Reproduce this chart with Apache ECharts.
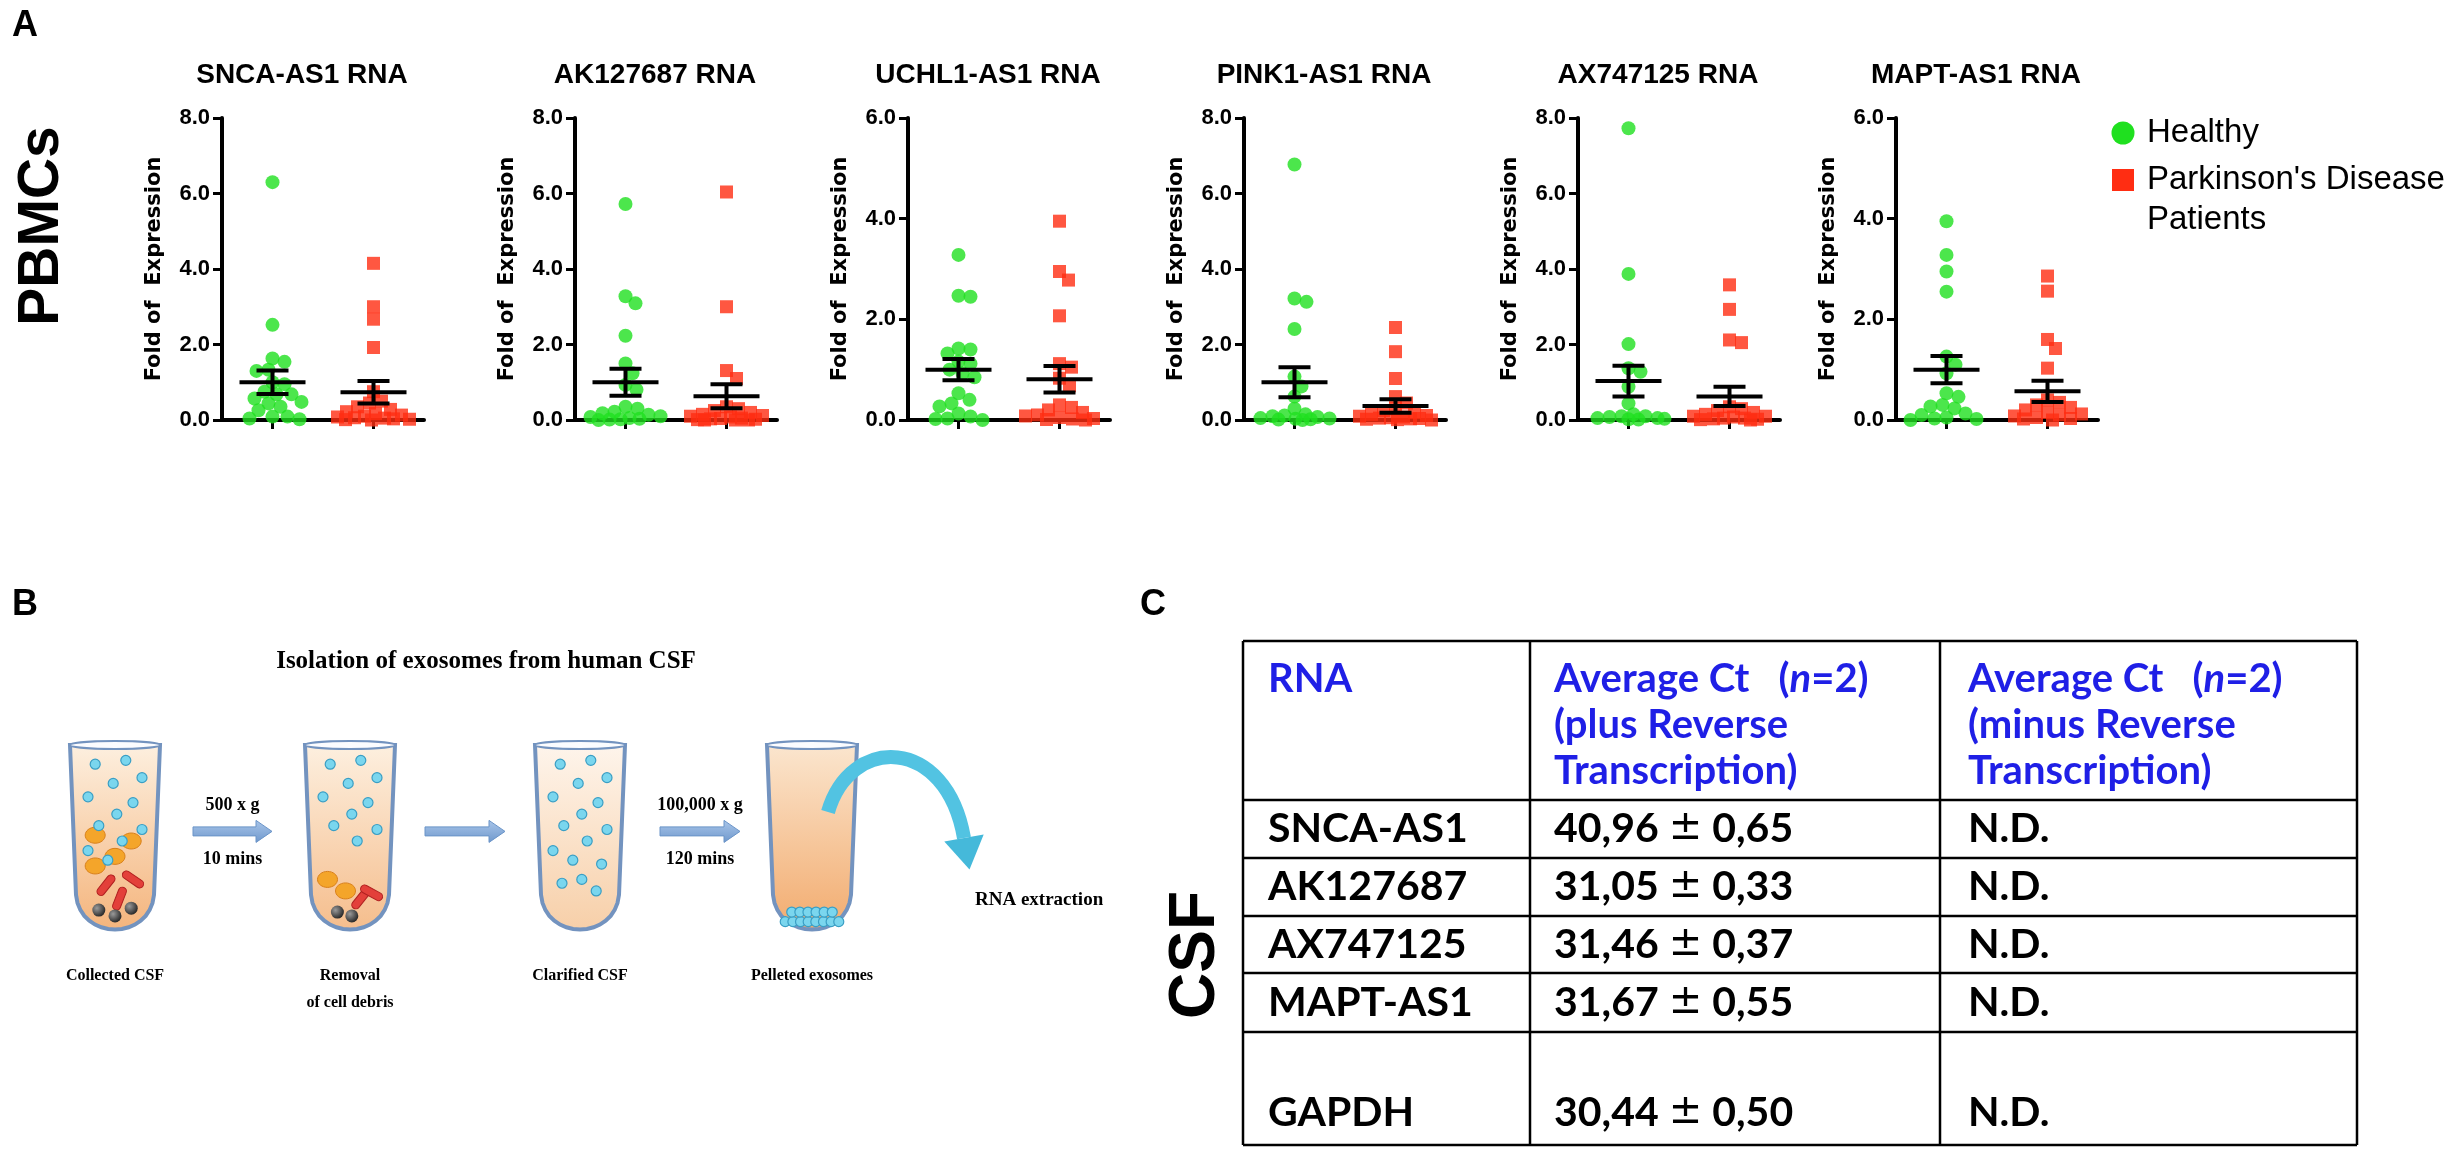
<!DOCTYPE html>
<html>
<head>
<meta charset="utf-8">
<script src="https://cdn.jsdelivr.net/npm/echarts@6/dist/echarts.min.js"></script>
<style>
html, body { margin: 0; padding: 0; background: #fff; }
#fig { width: 2458px; height: 1158px; }
</style>
</head>
<body>
<div id="fig"></div>
<script>
// ---- panel A data (fold of expression) ----
var genes = ['SNCA-AS1 RNA', 'AK127687 RNA', 'UCHL1-AS1 RNA', 'PINK1-AS1 RNA', 'AX747125 RNA', 'MAPT-AS1 RNA'];
var yMax = [8, 8, 6, 8, 8, 6];

var sncaHealthy  = [6.3, 2.52, 1.63, 1.54, 1.33, 1.3, 1.0, 0.95, 0.75, 0.68, 0.68, 0.57, 0.48, 0.44, 0.35, 0.26, 0.09, 0.09, 0.04, 0.02];
var sncaPatients = [4.15, 3.0, 2.67, 1.92, 0.75, 0.5, 0.45, 0.35, 0.28, 0.22, 0.17, 0.13, 0.1, 0.08, 0.06, 0.05, 0.03, 0.02, 0.01, 0.0];
var akHealthy    = [5.72, 3.28, 3.09, 2.23, 1.5, 1.24, 0.93, 0.8, 0.35, 0.3, 0.22, 0.18, 0.14, 0.1, 0.08, 0.05, 0.03, 0.02, 0.01, 0.0];
var akPatients   = [6.04, 3.0, 1.31, 1.1, 0.35, 0.3, 0.25, 0.2, 0.15, 0.12, 0.1, 0.08, 0.05, 0.04, 0.03, 0.02, 0.01, 0.0, 0.0, 0.0];
var uchHealthy   = [3.28, 2.47, 2.45, 1.42, 1.4, 1.32, 1.16, 1.12, 1.0, 0.93, 0.85, 0.53, 0.4, 0.33, 0.27, 0.13, 0.07, 0.03, 0.02, 0.0];
var uchPatients  = [3.95, 2.95, 2.78, 2.07, 1.12, 1.05, 0.83, 0.68, 0.3, 0.25, 0.2, 0.15, 0.1, 0.08, 0.05, 0.03, 0.02, 0.01, 0.0];
var pinkHealthy  = [6.77, 3.22, 3.13, 2.41, 1.15, 0.89, 0.62, 0.3, 0.15, 0.12, 0.1, 0.08, 0.05, 0.04, 0.03, 0.02, 0.01, 0.0];
var pinkPatients = [2.45, 1.81, 1.1, 0.62, 0.45, 0.3, 0.25, 0.2, 0.15, 0.12, 0.1, 0.08, 0.06, 0.05, 0.04, 0.03, 0.02, 0.01, 0.0];
var axHealthy    = [7.73, 3.87, 2.01, 1.37, 1.28, 0.88, 0.44, 0.15, 0.1, 0.1, 0.08, 0.05, 0.05, 0.03, 0.02, 0.01];
var axPatients   = [3.58, 2.93, 2.12, 2.05, 0.35, 0.3, 0.25, 0.2, 0.15, 0.1, 0.1, 0.08, 0.05, 0.05, 0.03, 0.02, 0.01, 0.0];
var maptHealthy  = [3.95, 3.28, 2.95, 2.55, 1.26, 1.1, 0.93, 0.53, 0.46, 0.3, 0.27, 0.23, 0.13, 0.1, 0.05, 0.03, 0.02, 0.0];
var maptPatients = [2.86, 2.56, 1.6, 1.42, 1.03, 0.4, 0.35, 0.3, 0.25, 0.2, 0.15, 0.12, 0.1, 0.08, 0.05, 0.03, 0.02, 0.0];

// mean and SEM as drawn (error bars)
var healthyMean = [1.0, 1.0, 1.0, 1.0, 1.03, 1.0];
var healthySem  = [0.31, 0.36, 0.21, 0.4, 0.41, 0.27];
var patientMean = [0.735, 0.63, 0.81, 0.37, 0.625, 0.57];
var patientSem  = [0.295, 0.32, 0.265, 0.18, 0.255, 0.21];

var legendNames = ['Healthy', "Parkinson's Disease\nPatients"];

// ---- panel B text ----
var stepNames = ['Collected CSF', 'Removal\nof cell debris', 'Clarified CSF', 'Pelleted exosomes'];
var spinTop = ['500 x g', '', '100,000 x g'];
var spinBottom = ['10 mins', '', '120 mins'];

// ---- panel C table ----
var rnaNames = ['SNCA-AS1', 'AK127687', 'AX747125', 'MAPT-AS1', 'GAPDH'];
var ctMean = ['40,96', '31,05', '31,46', '31,67', '30,44'];
var ctSd = ['0,65', '0,33', '0,37', '0,55', '0,50'];
var ctMinusRT = ['N.D.', 'N.D.', 'N.D.', 'N.D.', 'N.D.'];

var healthyAll = [sncaHealthy, akHealthy, uchHealthy, pinkHealthy, axHealthy, maptHealthy];
var patientAll = [sncaPatients, akPatients, uchPatients, pinkPatients, axPatients, maptPatients];

var GREEN = '#1fe01f', RED = '#ff2d12';
var SANS = 'Liberation Sans', SERIF = 'Liberation Serif', CAL = 'Lato';

// layout
var axisX = [222, 575, 908, 1244, 1578, 1896];
var plotTop = 118, plotH = 302, plotW = 202;

// simple deterministic beeswarm: horizontal pixel offsets so dots do not pile up
function swarm(values, pxPerUnit, dist, maxOff) {
    var order = values.map(function (v, i) { return i; });
    order.sort(function (a, b) { return values[b] - values[a]; });
    var placed = [], off = [];
    order.forEach(function (i) {
        var y = values[i] * pxPerUnit;
        var best = 0, bestGap = -1;
        for (var k = 0; k <= 2 * maxOff; k++) {
            var dx = k === 0 ? 0 : (k % 2 ? (k + 1) / 2 : -k / 2);
            var gap = Infinity;
            placed.forEach(function (p) {
                var d = Math.sqrt((p[0] - dx) * (p[0] - dx) + (p[1] - y) * (p[1] - y));
                if (d < gap) gap = d;
            });
            if (gap >= dist) { best = dx; bestGap = gap; break; }
            if (gap > bestGap) { bestGap = gap; best = dx; }
        }
        off[i] = best;
        placed.push([best, y]);
    });
    return off;
}

function errorBar(params, api) {
    var x = api.value(0), m = api.value(1), s = api.value(2);
    var c = api.coord([x, m]), hi = api.coord([x, m + s]), lo = api.coord([x, m - s]);
    function seg(x1, y1, x2, y2) {
        return { type: 'line', shape: { x1: x1, y1: y1, x2: x2, y2: y2 }, style: { stroke: '#000', lineWidth: 4 } };
    }
    return { type: 'group', children: [
        seg(c[0] - 33, c[1], c[0] + 33, c[1]),
        seg(c[0], hi[1], c[0], lo[1]),
        seg(c[0] - 16, hi[1], c[0] + 16, hi[1]),
        seg(c[0] - 16, lo[1], c[0] + 16, lo[1])
    ] };
}

var grids = [], xAxes = [], yAxes = [], series = [];
genes.forEach(function (g, i) {
    grids.push({ left: axisX[i], top: plotTop, width: plotW, height: plotH, outerBoundsMode: 'none' });
    xAxes.push({
        gridIndex: i, type: 'value', min: -0.5, max: 1.5,
        axisLine: { show: true, onZero: false, lineStyle: { color: '#000', width: 4 } },
        axisTick: { show: true, customValues: [0, 1], length: 9, lineStyle: { color: '#000', width: 3 } },
        axisLabel: { show: false }, splitLine: { show: false }
    });
    yAxes.push({
        gridIndex: i, type: 'value', min: 0, max: yMax[i], interval: 2,
        name: 'Fold of  Expression', nameLocation: 'middle', nameGap: 57,
        nameTextStyle: { fontFamily: 'DejaVu Sans', fontWeight: 'bold', fontSize: 21, color: '#000' },
        axisLine: { show: true, onZero: false, lineStyle: { color: '#000', width: 4 } },
        axisTick: { show: true, length: 9, lineStyle: { color: '#000', width: 3 } },
        axisLabel: { color: '#000', fontFamily: SANS, fontWeight: 'bold', fontSize: 22, margin: 12,
            formatter: function (v) { return v.toFixed(1); } },
        splitLine: { show: false }
    });
    var pxU = plotH / yMax[i], pxX = plotW / 2;
    var offH = swarm(healthyAll[i], pxU, 12, 36);
    var offP = swarm(patientAll[i], pxU, 12, 36);
    series.push({
        type: 'scatter', name: legendNames[0], xAxisIndex: i, yAxisIndex: i, clip: false, silent: true,
        symbol: 'circle', symbolSize: 14, itemStyle: { color: GREEN },
        data: healthyAll[i].map(function (v, k) { return [offH[k] / pxX, v]; })
    });
    series.push({
        type: 'scatter', name: legendNames[1], xAxisIndex: i, yAxisIndex: i, clip: false, silent: true,
        symbol: 'rect', symbolSize: 13, itemStyle: { color: RED },
        data: patientAll[i].map(function (v, k) { return [1 + offP[k] / pxX, v]; })
    });
    series.push({
        type: 'custom', xAxisIndex: i, yAxisIndex: i, clip: false, silent: true, z: 5,
        encode: { x: 0, y: 1 }, renderItem: errorBar,
        data: [[0, healthyMean[i], healthySem[i]], [1, patientMean[i], patientSem[i]]]
    });
});

// ---- graphic elements ----
var els = [];
function text(x, y, str, size, opt) {
    opt = opt || {};
    var st = { text: str, x: 0, y: 0, fontFamily: opt.family || SANS, fontSize: size,
        fontWeight: opt.weight || 'bold', fill: opt.color || '#000',
        textAlign: opt.align || 'left', verticalAlign: opt.valign || 'middle', textVerticalAlign: opt.valign || 'middle' };
    if (opt.lineHeight) st.lineHeight = opt.lineHeight;
    if (opt.rich) st.rich = opt.rich;
    els.push({ type: 'text', x: x, y: y, rotation: opt.rotation || 0, style: st, silent: true, z: 10 });
}

// panel labels
text(12, 26, 'A', 36);
text(12, 605, 'B', 36);
text(1140, 605, 'C', 36);
text(42, 226, 'PBMCs', 57, { align: 'center', rotation: Math.PI / 2 });
text(1196, 955, 'CSF', 64, { align: 'center', rotation: Math.PI / 2 });

// plot titles
genes.forEach(function (g, i) { text(axisX[i] + 80, 75, g, 28, { align: 'center' }); });

// legend
els.push({ type: 'circle', shape: { cx: 2123, cy: 133, r: 11.5 }, style: { fill: GREEN }, silent: true });
els.push({ type: 'rect', shape: { x: 2112, y: 169, width: 22, height: 22 }, style: { fill: RED }, silent: true });
text(2147, 133, legendNames[0], 33, { weight: 'normal' });
text(2147, 160, legendNames[1], 33, { weight: 'normal', valign: 'top', lineHeight: 40 });

// ---- panel B: exosome isolation scheme ----
text(486, 662, 'Isolation of exosomes from human CSF', 25, { family: SERIF, align: 'center' });

var tubeX = [115, 350, 580, 812], tubeTop = 745, tubeH = 192, tubeW = 90;
var exo = [[-0.22, 0.1], [0.12, 0.08], [0.3, 0.17], [-0.02, 0.2], [-0.3, 0.27], [0.2, 0.3], [0.02, 0.36],
    [-0.18, 0.42], [0.3, 0.44], [0.08, 0.5], [-0.3, 0.55], [-0.08, 0.6], [0.24, 0.62], [0.02, 0.7],
    [-0.2, 0.72], [0.18, 0.76]];
var tubeStuff = [
    { exo: 12, cells: [[-0.22, 0.47], [0.18, 0.5], [0.0, 0.58], [-0.22, 0.63]],
      rods: [[-0.1, 0.73, 0.9], [0.2, 0.7, -0.6], [0.05, 0.8, 1.2]], debris: [[-0.18, 0.86], [0.0, 0.89], [0.18, 0.85]] },
    { exo: 10, cells: [[-0.25, 0.7], [-0.05, 0.76]],
      rods: [[0.12, 0.8, 0.9], [0.24, 0.77, -0.5]], debris: [[0.02, 0.89], [-0.14, 0.87]] },
    { exo: 16, cells: [], rods: [], debris: [] },
    { exo: 0, cells: [], rods: [], debris: [] }
];
var tubeFill = [['#fdf0e0', '#f4b47c'], ['#fdf0e0', '#f5bd8c'], ['#fef5ec', '#f7cfa8'], ['#fbe6cf', '#f2ab6e']];

function tubeOutline(L, R, T, H) {
    var B = T + H, yk = T + H * 0.78;
    var p0 = [L + 6, yk], p1 = [L + 10, B + 4], p2 = [R - 10, B + 4], p3 = [R - 6, yk];
    var pts = [[L, T], p0];
    for (var s = 1; s <= 16; s++) {
        var t = s / 16, u = 1 - t;
        pts.push([u * u * u * p0[0] + 3 * u * u * t * p1[0] + 3 * u * t * t * p2[0] + t * t * t * p3[0],
                  u * u * u * p0[1] + 3 * u * u * t * p1[1] + 3 * u * t * t * p2[1] + t * t * t * p3[1]]);
    }
    pts.push([R, T]);
    return pts;
}

tubeX.forEach(function (cx, t) {
    var L = cx - tubeW / 2, R = cx + tubeW / 2, T = tubeTop;
    els.push({ type: 'polygon', shape: { points: tubeOutline(L, R, T, tubeH) }, silent: true, z: 1,
        style: { fill: new echarts.graphic.LinearGradient(0, 0, 0, 1, [
            { offset: 0, color: tubeFill[t][0] }, { offset: 1, color: tubeFill[t][1] }]),
            stroke: '#7393bf', lineWidth: 4 } });
    els.push({ type: 'ellipse', shape: { cx: cx, cy: T, rx: tubeW / 2, ry: 4 }, silent: true, z: 2,
        style: { fill: '#fbfcff', stroke: '#7393bf', lineWidth: 2 } });
    var s = tubeStuff[t];
    s.cells.forEach(function (p) {
        els.push({ type: 'ellipse', shape: { cx: cx + p[0] * tubeW, cy: T + p[1] * tubeH, rx: 10, ry: 8 }, silent: true, z: 3,
            style: { fill: '#f4a52a', stroke: '#d9801a', lineWidth: 1 } });
    });
    s.rods.forEach(function (p) {
        els.push({ type: 'rect', x: cx + p[0] * tubeW, y: T + p[1] * tubeH, rotation: p[2], silent: true, z: 3,
            shape: { x: -12, y: -4, width: 24, height: 8, r: 4 }, style: { fill: '#e3403a', stroke: '#b02020', lineWidth: 1 } });
    });
    s.debris.forEach(function (p) {
        els.push({ type: 'circle', shape: { cx: cx + p[0] * tubeW, cy: T + p[1] * tubeH, r: 6.5 }, silent: true, z: 3,
            style: { fill: new echarts.graphic.RadialGradient(0.35, 0.35, 0.7, [
                { offset: 0, color: '#9a9a9a' }, { offset: 1, color: '#252525' }]) } });
    });
    for (var k = 0; k < s.exo; k++) {
        els.push({ type: 'circle', shape: { cx: cx + exo[k][0] * tubeW, cy: T + exo[k][1] * tubeH, r: 5 }, silent: true, z: 4,
            style: { fill: '#7ad6ee', stroke: '#3a9ec4', lineWidth: 1.2 } });
    }
    if (t === 3) {
        for (var r = 0; r < 2; r++) {
            var n = r === 0 ? 8 : 6;
            for (var j = 0; j < n; j++) {
                var fx = (j - (n - 1) / 2) * (r === 0 ? 0.085 : 0.09);
                els.push({ type: 'circle', shape: { cx: cx + fx * tubeW, cy: T + (0.92 - r * 0.05) * tubeH, r: 5 }, silent: true, z: 4,
                    style: { fill: '#7ad6ee', stroke: '#3a9ec4', lineWidth: 1.2 } });
            }
        }
    }
    text(cx, 962, stepNames[t], 16, { family: SERIF, align: 'center', valign: 'top', lineHeight: 27 });
});

// straight arrows between tubes
var arrowY = tubeTop + tubeH * 0.45;
[[193, 272], [425, 505], [660, 740]].forEach(function (a, i) {
    var x1 = a[0], x2 = a[1], y = arrowY, hl = 16;
    els.push({ type: 'polygon', silent: true, z: 2,
        shape: { points: [[x1, y - 4.5], [x2 - hl, y - 4.5], [x2 - hl, y - 11], [x2, y], [x2 - hl, y + 11], [x2 - hl, y + 4.5], [x1, y + 4.5]] },
        style: { fill: new echarts.graphic.LinearGradient(0, 0, 0, 1, [
            { offset: 0, color: '#a9c6ea' }, { offset: 1, color: '#6f98cc' }]), stroke: '#6a94c8', lineWidth: 1 } });
    if (spinTop[i]) {
        text((x1 + x2) / 2, y - 26, spinTop[i], 18, { family: SERIF, align: 'center' });
        text((x1 + x2) / 2, y + 28, spinBottom[i], 18, { family: SERIF, align: 'center' });
    }
});

// curved arrow to RNA extraction
(function () {
    var p0 = [828, 812], c1 = [850, 735], c2 = [946, 735], p1 = [964, 838];
    els.push({ type: 'bezierCurve', silent: true, z: 6,
        shape: { x1: p0[0], y1: p0[1], cpx1: c1[0], cpy1: c1[1], cpx2: c2[0], cpy2: c2[1], x2: p1[0], y2: p1[1] },
        style: { stroke: '#52c3e2', lineWidth: 14, fill: null } });
    var dx = p1[0] - c2[0], dy = p1[1] - c2[1], len = Math.sqrt(dx * dx + dy * dy);
    dx /= len; dy /= len;
    var px = -dy, py = dx;
    els.push({ type: 'polygon', silent: true, z: 6,
        shape: { points: [[p1[0] + px * 20, p1[1] + py * 20], [p1[0] + dx * 32, p1[1] + dy * 32], [p1[0] - px * 20, p1[1] - py * 20]] },
        style: { fill: '#45b9da' } });
})();
text(975, 900, 'RNA extraction', 19, { family: SERIF });

// ---- panel C: table ----
var colX = [1243, 1530, 1940, 2357];
var rowY = [641, 800, 858, 916, 973, 1032, 1145];
rowY.forEach(function (y) {
    els.push({ type: 'line', shape: { x1: colX[0], y1: y, x2: colX[3], y2: y }, style: { stroke: '#000', lineWidth: 2.5 }, silent: true });
});
colX.forEach(function (x) {
    els.push({ type: 'line', shape: { x1: x, y1: rowY[0], x2: x, y2: rowY[6] }, style: { stroke: '#000', lineWidth: 2.5 }, silent: true });
});
var BLUE = '#1f1fe6';
var rich = { i: { fontStyle: 'italic', fontWeight: 'bold', fontFamily: CAL, fontSize: 40, fill: BLUE } };
var pmRich = { pm: { fontFamily: 'DejaVu Sans', fontWeight: 'normal', fontSize: 40, fill: '#000', padding: [0, 10, 0, 10] } };
text(colX[0] + 25, 656, 'RNA', 40, { family: CAL, color: BLUE, valign: 'top', lineHeight: 46 });
text(colX[1] + 24, 656, 'Average Ct   ({i|n}=2)\n(plus Reverse\nTranscription)', 40,
    { family: CAL, color: BLUE, valign: 'top', lineHeight: 46, rich: rich });
text(colX[2] + 28, 656, 'Average Ct   ({i|n}=2)\n(minus Reverse\nTranscription)', 40,
    { family: CAL, color: BLUE, valign: 'top', lineHeight: 46, rich: rich });
rnaNames.forEach(function (name, r) {
    var y = r < 4 ? (rowY[r + 1] + rowY[r + 2]) / 2 : rowY[6] - 32;
    text(colX[0] + 25, y, name, 41, { family: CAL });
    text(colX[1] + 24, y, ctMean[r] + '{pm|\u00b1}' + ctSd[r], 41, { family: CAL, rich: pmRich });
    text(colX[2] + 28, y, ctMinusRT[r], 41, { family: CAL });
});

var chart = echarts.init(document.getElementById('fig'), null, { width: 2458, height: 1158 });
chart.setOption({
    animation: false,
    backgroundColor: '#fff',
    grid: grids,
    xAxis: xAxes,
    yAxis: yAxes,
    series: series,
    graphic: { elements: els }
});
</script>
</body>
</html>
